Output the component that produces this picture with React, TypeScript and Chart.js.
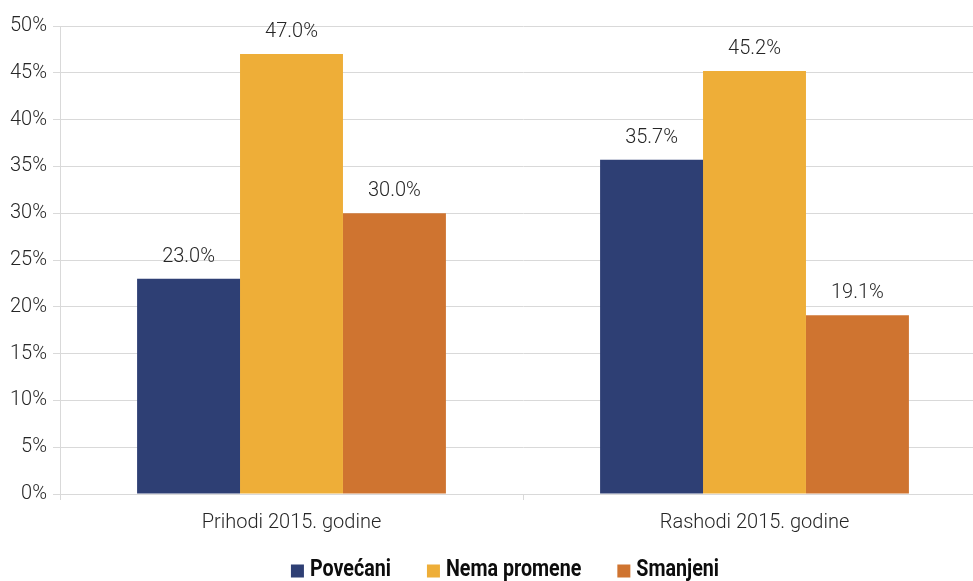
import React, { useEffect, useRef } from "react";
import { Chart, registerables } from "chart.js";

Chart.register(...registerables);

const categories = ["Prihodi 2015. godine", "Rashodi 2015. godine"];
const seriesNames = ["Povećani", "Nema promene", "Smanjeni"];
const povecani = [23.0, 35.7];
const nemaPromene = [47.0, 45.2];
const smanjeni = [30.0, 19.1];
const colors = ["#2E3F74", "#EEAE38", "#CF7430"];

const W = 986;
const H = 581;

const labelPlugin = {
  id: "barLabels",
  afterDatasetsDraw(chart: any) {
    const ctx = chart.ctx;
    ctx.save();
    ctx.font = "300 20px Roboto";
    ctx.fillStyle = "#262626";
    ctx.textAlign = "center";
    ctx.textBaseline = "middle";
    chart.data.datasets.forEach((ds: any, i: number) => {
      const meta = chart.getDatasetMeta(i);
      meta.data.forEach((bar: any, j: number) => {
        ctx.fillText(ds.data[j].toFixed(1) + "%", bar.x, bar.y - 22);
      });
    });
    ctx.restore();
  },
};

const legendPlugin = {
  id: "condensedLegend",
  afterDraw(chart: any) {
    const ctx = chart.ctx;
    const sx = 0.82;
    const box = 13;
    const gap = 6;
    const spacing = 36;
    const cy = 570;
    ctx.save();
    ctx.font = "bold 24px Roboto";
    const items = chart.data.datasets.map((ds: any) => ({
      text: ds.label,
      color: ds.backgroundColor,
      w: ctx.measureText(ds.label).width * sx,
    }));
    const total =
      items.reduce((a: number, it: any) => a + box + gap + it.w, 0) + spacing * (items.length - 1);
    let x = 505 - total / 2;
    items.forEach((it: any) => {
      ctx.fillStyle = it.color;
      ctx.fillRect(x, cy - box / 2 + 1, box, box);
      x += box + gap;
      ctx.save();
      ctx.translate(x, cy);
      ctx.scale(sx, 1);
      ctx.fillStyle = "#0d0d0d";
      ctx.textAlign = "left";
      ctx.textBaseline = "middle";
      ctx.fillText(it.text, 0, 0);
      ctx.restore();
      x += it.w + spacing;
    });
    ctx.restore();
  },
};

export default function App() {
  const ref = useRef<HTMLCanvasElement>(null);
  useEffect(() => {
    document.body.style.margin = "0";
    document.documentElement.style.overflow = "hidden";
    document.body.style.overflow = "hidden";
    const values = [povecani, nemaPromene, smanjeni];
    const chart = new Chart(ref.current!, {
      type: "bar",
      data: {
        labels: categories,
        datasets: seriesNames.map((name, i) => ({
          label: name,
          data: values[i],
          backgroundColor: colors[i],
          borderWidth: 0,
          categoryPercentage: 0.667,
          barPercentage: 1,
        })),
      },
      options: {
        animation: false,
        responsive: false,
        layout: { padding: { top: 26, left: 0, right: 0, bottom: 37 } },
        plugins: {
          tooltip: { enabled: false },
          legend: { display: false },
        },
        scales: {
          x: {
            offset: true,
            afterFit: (s: any) => {
              s.height = 50;
            },
            grid: {
              offset: true,
              drawOnChartArea: false,
              drawTicks: true,
              tickLength: 6,
              color: "#d9d9d9",
            },
            border: { display: false },
            ticks: {
              padding: 11,
              color: "#262626",
              font: { family: "Roboto", size: 20, weight: "300" },
            },
          },
          y: {
            min: 0,
            max: 50,
            afterFit: (s: any) => {
              s.width = 60;
            },
            grid: {
              color: "#d9d9d9",
              drawTicks: true,
              tickLength: 7,
            },
            border: { display: true, color: "#d9d9d9" },
            ticks: {
              stepSize: 5,
              padding: 6,
              color: "#262626",
              font: { family: "Roboto", size: 20, weight: "300" },
              callback: (v: any) => v + "%",
            },
          },
        },
      },
      plugins: [labelPlugin, legendPlugin],
    });
    return () => chart.destroy();
  }, []);
  return (
    <div style={{ position: "fixed", left: 0, top: 0, width: W, height: H, overflow: "hidden" }}>
      <canvas ref={ref} width={W} height={H} style={{ width: W, height: H, display: "block" }} />
    </div>
  );
}
